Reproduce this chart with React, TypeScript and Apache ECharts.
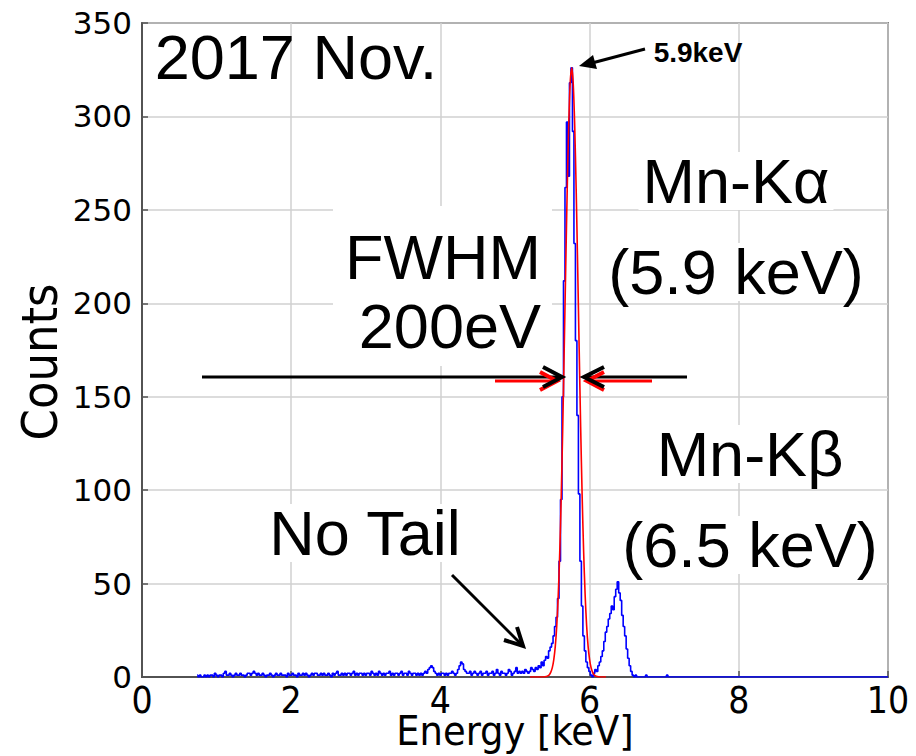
import React, { useEffect, useRef } from "react";
import * as echarts from "echarts";

// ---- data ----
const binWidth = 0.02; // keV per histogram bin

// background region, bins starting at 0.74 keV
const noiseStart = 0.74;
const noiseCounts = [
  1, 0, 1, 0, 0, 1, 0, 1, 0, 1,
  1, 0, 2, 1, 0, 1, 1, 0, 2, 3,
  1, 1, 2, 1, 0, 1, 2, 1, 1, 2,
  1, 1, 0, 1, 2, 2, 1, 2, 3, 2,
  1, 2, 1, 1, 2, 1, 0, 1, 1, 2,
  1, 0, 1, 2, 1, 1, 2, 1, 1, 1,
  0, 2, 1, 1, 2, 1, 1, 0, 2, 1,
  1, 2, 1, 2, 1, 0, 1, 2, 1, 2,
  2, 1, 1, 2, 1, 2, 1, 1, 2, 1,
  0, 2, 1, 2, 3, 1, 1, 2, 1, 2,
  1, 2, 2, 1, 2, 3, 1, 2, 1, 2,
  2, 1, 2, 1, 2, 2, 1, 3, 2, 1,
  2, 1, 3, 2, 1, 2, 1, 2, 2, 3,
  1, 2, 1, 2, 2, 1, 2, 3, 1, 2,
  2, 1, 3, 2, 1, 2, 2, 1, 2, 1,
  2, 1, 2, 3, 2, 4, 5, 6, 5, 3,
  2, 1, 2, 1, 2, 2, 1, 2, 1, 2,
  2, 3, 2, 1, 2, 4, 6, 8, 7, 4,
  3, 2, 2, 3, 1, 2, 3, 2, 1, 2,
  3, 1, 2, 2, 3, 1, 2, 2, 3, 1,
  2, 4, 2, 1, 3, 2, 2, 1, 2, 4,
  3, 1, 2, 3, 5, 2, 3, 2, 3, 2,
  4, 3, 2, 3, 5, 4, 3, 5, 4, 6,
  5,
];

// Mn-Ka and Mn-Kb peaks, bins starting at 5.36 keV
const peakStart = 5.36;
const peakCounts = [
  8, 6, 9, 11, 10, 14, 16, 18, 22, 27,
  32, 42, 62, 95, 150, 212, 262, 297, 268, 318,
  326, 292, 232, 180, 140, 98, 62, 38, 22, 14,
  8, 5, 3, 1, 0, 2, 4, 3, 6, 8,
  11, 14, 19, 24, 27, 31, 34, 38, 36, 43,
  47, 51, 45, 41, 33, 27, 22, 15, 10, 6,
  3, 1, 0, 1, 0, 0,
];

// sparse high-energy tail, bins starting at 6.68 keV
const tailStart = 6.68;
const tailCounts = [0, 0, 0, 0, 1, 0, 0, 0, 0, 0, 0, 0, 0, 0, 0, 0, 0, 0, 1, 0];
const spectrumEnd = 10;

// Gaussian fit (red), sampled from 5.20 keV
const fitStart = 5.2;
const fitCounts = [
  0, 0, 0, 0, 0, 0, 0, 0.01, 0.02, 0.04,
  0.11, 0.26, 0.58, 1.25, 2.6, 5.0, 9.3, 16.4, 27.6, 44.1,
  67.1, 97.2, 134, 176, 219.6, 261, 295.4, 318, 326, 318,
  295.4, 261, 219.6, 176, 134, 97.2, 67.1, 44.1, 27.6, 16.4,
  9.3, 5.0, 2.6, 1.25, 0.58, 0.26, 0.11, 0.04, 0.02, 0.01,
  0, 0,
];

const xMin = 0;
const xMax = 10;
const xInterval = 2;
const yMin = 0;
const yMax = 350;
const yInterval = 50;

const toPairs = (start: number, arr: number[]) =>
  arr.map((v, i) => [Number((start + i * binWidth).toFixed(2)), v]);

const spectrum = [
  ...toPairs(noiseStart, noiseCounts),
  ...toPairs(peakStart, peakCounts),
  ...toPairs(tailStart, tailCounts),
  [spectrumEnd, 0],
];
const fit = toPairs(fitStart, fitCounts);

const SANS = "'Liberation Sans', Arial, Helvetica, sans-serif";
const CONDENSED = "'DejaVu Sans Condensed', 'DejaVu Sans', sans-serif";

function bigText(text: string, x: number, y: number, align: string, bg: boolean) {
  return {
    type: "text",
    z: 100,
    x,
    y,
    style: {
      text,
      fontSize: 63,
      fontFamily: SANS,
      fill: "#000",
      align,
      verticalAlign: "middle",
      lineHeight: 58,
      backgroundColor: bg ? "#fff" : undefined,
      padding: bg ? [0, 4] : undefined,
    },
  };
}

function seg(x1: number, y1: number, x2: number, y2: number, color: string, w: number) {
  return {
    type: "line",
    z: 101,
    shape: { x1, y1, x2, y2 },
    style: { stroke: color, lineWidth: w },
  };
}

function chevron(points: number[][], color: string, w: number) {
  return {
    type: "polyline",
    z: 102,
    shape: { points },
    style: { stroke: color, lineWidth: w, fill: null, lineJoin: "miter" },
  };
}

export default function App() {
  const ref = useRef<HTMLDivElement>(null);

  useEffect(() => {
    if (!ref.current) return;
    const chart = echarts.init(ref.current, undefined, { renderer: "svg" });

    const option: any = {
      animation: false,
      backgroundColor: "#fff",
      grid: {
        left: 142,
        right: 28,
        top: 23,
        bottom: 79,
        containLabel: false,
        outerBoundsMode: "none",
        show: true,
        borderColor: "#222",
        borderWidth: 1.5,
        backgroundColor: "transparent",
      },
      xAxis: {
        type: "value",
        min: xMin,
        max: xMax,
        interval: xInterval,
        axisLine: { show: true, lineStyle: { color: "#333", width: 1.5 } },
        axisTick: { show: true, inside: true, length: 6, lineStyle: { color: "#555", width: 1.5 } },
        splitLine: { show: true, lineStyle: { color: "#d0d0d0", width: 1.5 } },
        axisLabel: {
          fontFamily: CONDENSED,
          fontSize: 37,
          lineHeight: 30,
          color: "#000",
          margin: 8,
        },
        name: "Energy [keV]",
        nameLocation: "middle",
        nameGap: 35,
        nameMoveOverlap: false,
        nameTextStyle: {
          fontFamily: CONDENSED,
          fontSize: 41,
          lineHeight: 37,
          color: "#000",
        },
      },
      yAxis: {
        type: "value",
        min: yMin,
        max: yMax,
        interval: yInterval,
        axisLine: { show: true, lineStyle: { color: "#333", width: 1.5 } },
        axisTick: { show: true, inside: true, length: 6, lineStyle: { color: "#555", width: 1.5 } },
        splitLine: { show: true, lineStyle: { color: "#d0d0d0", width: 1.5 } },
        axisLabel: {
          fontFamily: "'DejaVu Sans', sans-serif",
          fontSize: 31,
          color: "#000",
          margin: 10,
        },
        name: "Counts",
        nameLocation: "middle",
        nameGap: 77,
        nameRotate: 90,
        nameMoveOverlap: false,
        nameTextStyle: {
          fontFamily: CONDENSED,
          fontSize: 50,
          color: "#000",
          padding: [0, 24, 0, 0],
        },
      },
      series: [
        {
          type: "line",
          data: spectrum,
          step: "middle",
          symbol: "none",
          lineStyle: { color: "#0000ff", width: 1.6 },
          z: 3,
        },
        {
          type: "line",
          data: fit,
          smooth: 0.3,
          symbol: "none",
          lineStyle: { color: "#ff0000", width: 1.6 },
          z: 4,
        },
      ],
      graphic: [
        // white box behind FWHM text block
        {
          type: "rect",
          z: 99,
          shape: { x: 333, y: 206, width: 219, height: 160 },
          style: { fill: "#fff" },
        },
        bigText("2017 Nov.", 296, 57, "center", false),
        bigText("FWHM", 541, 257, "right", false),
        bigText("200eV", 541, 326, "right", false),
        bigText("Mn-Kα", 736, 181, "center", true),
        bigText("(5.9 keV)", 736, 272, "center", true),
        bigText("Mn-Kβ", 750, 454, "center", true),
        bigText("(6.5 keV)", 750, 545, "center", true),
        bigText("No Tail", 365, 533, "center", true),
        {
          type: "text",
          z: 100,
          x: 4,
          y: 550,
          style: { text: ")", fontSize: 62, fontFamily: SANS, fill: "#000", align: "right", verticalAlign: "middle" },
        },
        {
          type: "text",
          z: 100,
          x: 698,
          y: 52,
          style: {
            text: "5.9keV",
            fontSize: 28,
            fontWeight: "bold",
            fontFamily: SANS,
            fill: "#000",
            align: "center",
            verticalAlign: "middle",
          },
        },
        // 5.9 keV pointer arrow
        seg(645, 49, 592, 63, "#000", 3),
        {
          type: "polygon",
          z: 102,
          shape: { points: [[579, 66], [597, 69], [593, 55]] },
          style: { fill: "#000" },
        },
        // red FWHM arrows (behind)
        seg(495, 381, 556, 381, "#ff0000", 3),
        chevron([[540, 372], [557, 381], [540, 390]], "#ff0000", 4),
        seg(587, 381, 652, 381, "#ff0000", 3),
        chevron([[604, 372], [587, 381], [604, 390]], "#ff0000", 4),
        // black FWHM arrows
        seg(202, 377, 560, 377, "#000", 3),
        chevron([[543, 367], [562, 377], [543, 387]], "#000", 4),
        seg(586, 377, 687, 377, "#000", 3),
        chevron([[604, 367], [584, 377], [604, 387]], "#000", 4),
        // No Tail arrow
        seg(452, 575, 521, 644, "#000", 3),
        chevron([[504, 640], [523, 646], [517, 627]], "#000", 4),
      ],
    };

    chart.setOption(option);
    return () => chart.dispose();
  }, []);

  return (
    <div
      ref={ref}
      style={{ position: "fixed", left: 0, top: 0, width: 916, height: 756 }}
    />
  );
}
